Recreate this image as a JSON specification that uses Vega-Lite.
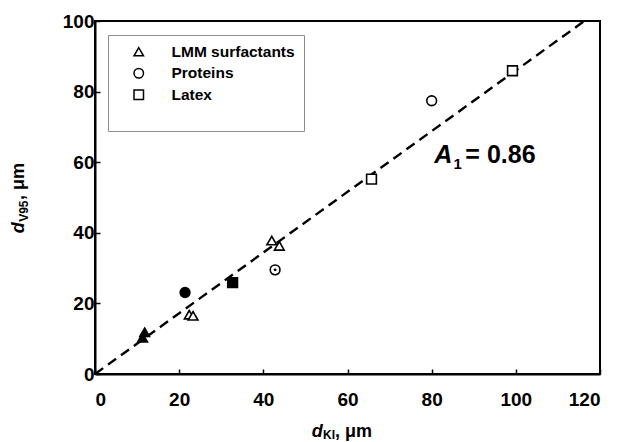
{
  "$schema": "https://vega.github.io/schema/vega-lite/v6.json",
  "width": 505,
  "height": 353,
  "autosize": {"type": "none"},
  "padding": {"left": 95, "top": 21, "right": 21, "bottom": 68},
  "background": "white",
  "config": {
    "view": {"stroke": "black", "strokeWidth": 2},
    "font": "Liberation Sans",
    "axis": {
      "grid": false,
      "domainColor": "black",
      "domainWidth": 2,
      "tickColor": "black",
      "tickWidth": 1.5,
      "tickSize": -5,
      "labelFont": "Liberation Sans",
      "labelFontSize": 19,
      "labelFontWeight": "bold",
      "labelColor": "black"
    }
  },
  "layer": [
    {
      "data": {"values": [{"x": 0, "y": 0}, {"x": 116.28, "y": 100}]},
      "mark": {"type": "line", "color": "black", "strokeWidth": 2.4, "strokeDash": [10, 6]},
      "encoding": {
        "x": {"field": "x", "type": "quantitative", "scale": {"domain": [0, 120], "nice": false}},
        "y": {"field": "y", "type": "quantitative", "scale": {"domain": [0, 100], "nice": false}}
      }
    },
    {
      "data": {"values": [
        {"type": "LMM surfactants", "filled": "yes", "x": 11.3, "y": 10.3},
        {"type": "LMM surfactants", "filled": "yes", "x": 11.8, "y": 11.8},
        {"type": "Proteins", "filled": "yes", "x": 21.4, "y": 23.1},
        {"type": "Latex", "filled": "yes", "x": 32.7, "y": 25.9},
        {"type": "LMM surfactants", "filled": "no", "x": 22.4, "y": 16.8},
        {"type": "LMM surfactants", "filled": "no", "x": 23.3, "y": 16.5},
        {"type": "LMM surfactants", "filled": "no", "x": 42.0, "y": 37.8},
        {"type": "LMM surfactants", "filled": "no", "x": 43.8, "y": 36.3},
        {"type": "Proteins", "filled": "no", "x": 42.8, "y": 29.5},
        {"type": "Proteins", "filled": "no", "x": 80.0, "y": 77.4},
        {"type": "Latex", "filled": "no", "x": 65.7, "y": 55.2},
        {"type": "Latex", "filled": "no", "x": 99.2, "y": 85.9}
      ]},
      "mark": {"type": "point", "filled": true, "stroke": "black", "strokeWidth": 1.6, "size": 95, "opacity": 1},
      "encoding": {
        "x": {"field": "x", "type": "quantitative", "scale": {"domain": [0, 120], "nice": false},
              "axis": {"values": [0, 20, 40, 60, 80, 100, 120], "title": null, "labelPadding": 21}},
        "y": {"field": "y", "type": "quantitative", "scale": {"domain": [0, 100], "nice": false},
              "axis": {"values": [0, 20, 40, 60, 80, 100], "title": null, "labelPadding": 6}},
        "fill": {"field": "filled", "type": "nominal", "scale": {"domain": ["no", "yes"], "range": ["white", "black"]}, "legend": null},
        "shape": {"field": "type", "type": "nominal",
          "scale": {"domain": ["LMM surfactants", "Proteins", "Latex"], "range": ["triangle-up", "circle", "square"]},
          "legend": {
            "title": " ", "titleOrient": "bottom", "titleFontSize": 12, "titlePadding": 8,
            "orient": "none", "legendX": 13, "legendY": 14, "padding": 9,
            "strokeColor": "#8c8c8c", "fillColor": "white",
            "symbolOffset": 14, "labelOffset": 25, "rowPadding": 4.5,
            "labelFontSize": 15.5, "labelFontWeight": "bold", "labelColor": "black", "labelFont": "Liberation Sans",
            "symbolFillColor": "white", "symbolStrokeColor": "black", "symbolStrokeWidth": 1.5, "symbolSize": 90
          }
        }
      }
    },
    {
      "data": {"values": [{"x": 42.8, "y": 29.5}]},
      "mark": {"type": "point", "filled": true, "color": "black", "size": 8, "opacity": 1},
      "encoding": {
        "x": {"field": "x", "type": "quantitative"},
        "y": {"field": "y", "type": "quantitative"}
      }
    },
    {
      "data": {"values": [{"t": "A"}]},
      "mark": {"type": "text", "align": "left", "baseline": "alphabetic", "fontSize": 25, "fontWeight": "bold", "fontStyle": "italic", "color": "black"},
      "encoding": {"text": {"field": "t"}, "x": {"datum": 80.6}, "y": {"datum": 59.8}}
    },
    {
      "data": {"values": [{"t": "1"}]},
      "mark": {"type": "text", "align": "left", "baseline": "alphabetic", "fontSize": 15, "fontWeight": "bold", "color": "black"},
      "encoding": {"text": {"field": "t"}, "x": {"datum": 85.2}, "y": {"datum": 58.0}}
    },
    {
      "data": {"values": [{"t": "= 0.86"}]},
      "mark": {"type": "text", "align": "left", "baseline": "alphabetic", "fontSize": 25, "fontWeight": "bold", "color": "black"},
      "encoding": {"text": {"field": "t"}, "x": {"datum": 88.0}, "y": {"datum": 59.8}}
    },
    {
      "data": {"values": [{"t": "d"}]},
      "mark": {"type": "text", "align": "left", "baseline": "alphabetic", "fontSize": 18, "fontWeight": "bold", "fontStyle": "italic", "color": "black"},
      "encoding": {"text": {"field": "t"}, "x": {"datum": 51.5}, "y": {"datum": -17.8}}
    },
    {
      "data": {"values": [{"t": "KI"}]},
      "mark": {"type": "text", "align": "left", "baseline": "alphabetic", "fontSize": 12, "fontWeight": "bold", "color": "black"},
      "encoding": {"text": {"field": "t"}, "x": {"datum": 54.2}, "y": {"datum": -18.5}}
    },
    {
      "data": {"values": [{"t": ", μm"}]},
      "mark": {"type": "text", "align": "left", "baseline": "alphabetic", "fontSize": 18, "fontWeight": "bold", "color": "black"},
      "encoding": {"text": {"field": "t"}, "x": {"datum": 57.0}, "y": {"datum": -17.8}}
    },
    {
      "data": {"values": [{"t": "d"}]},
      "mark": {"type": "text", "align": "left", "baseline": "alphabetic", "angle": 270, "fontSize": 18, "fontWeight": "bold", "fontStyle": "italic", "color": "black"},
      "encoding": {"text": {"field": "t"}, "x": {"datum": -16.9}, "y": {"datum": 39.9}}
    },
    {
      "data": {"values": [{"t": "V95"}]},
      "mark": {"type": "text", "align": "left", "baseline": "alphabetic", "angle": 270, "fontSize": 12, "fontWeight": "bold", "color": "black"},
      "encoding": {"text": {"field": "t"}, "x": {"datum": -15.9}, "y": {"datum": 43.1}}
    },
    {
      "data": {"values": [{"t": ", μm"}]},
      "mark": {"type": "text", "align": "left", "baseline": "alphabetic", "angle": 270, "fontSize": 18, "fontWeight": "bold", "color": "black"},
      "encoding": {"text": {"field": "t"}, "x": {"datum": -16.9}, "y": {"datum": 49.3}}
    }
  ]
}
